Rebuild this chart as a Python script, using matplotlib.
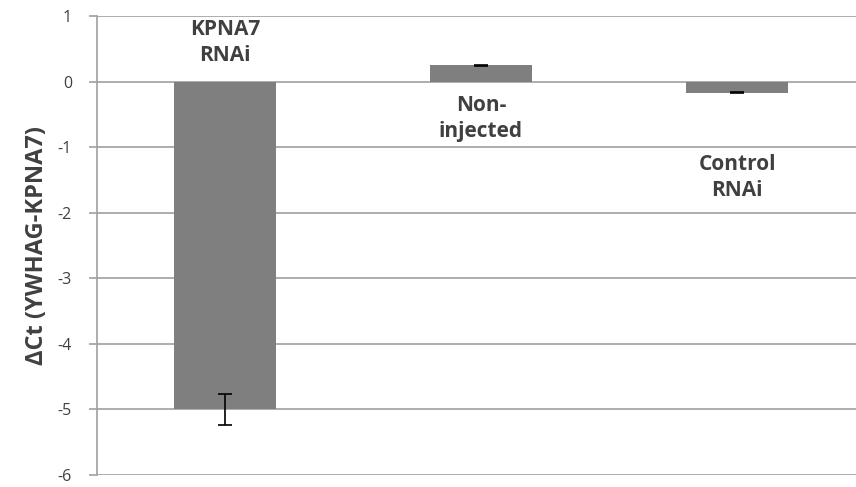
import matplotlib
matplotlib.use("Agg")
import matplotlib.pyplot as plt
import numpy as np

categories = ["KPNA7\nRNAi", "Non-\ninjected", "Control\nRNAi"]
values = [-5.0, 0.25, -0.17]
errors = [0.23, 0.01, 0.01]
label_y = [0.60, -0.56, -1.46]
yticks = [1, 0, -1, -2, -3, -4, -5, -6]

plt.rcParams['font.family'] = ['Open Sans', 'DejaVu Sans']

fig = plt.figure(figsize=(8.56, 4.87), dpi=100)
ax = fig.add_axes([97/856, 1-475/487, 768/856, (475-16)/487])

x = np.arange(len(categories))
ax.bar(x, values, width=0.4, color='#7f7f7f', zorder=3)
ax.errorbar(x, values, yerr=errors, fmt='none', ecolor='black', elinewidth=1.2,
            capsize=5, capthick=1.2, zorder=4)

for xi, lab, ly in zip(x, categories, label_y):
    ax.text(xi, ly, lab, ha='center', va='center', fontsize=15, fontweight='bold',
            color='#404040', linespacing=1.3, zorder=5)

ax.set_xlim(-0.5, 2.5)
ax.set_ylim(-6, 1)
ax.set_yticks(yticks)
ax.set_yticklabels([str(t) for t in yticks])
ax.set_xticks([])
ax.yaxis.grid(True, color='#a0a0a0', linewidth=1.2, zorder=0)
for s in ['top', 'right', 'bottom']:
    ax.spines[s].set_visible(False)
ax.spines['left'].set_color('#a0a0a0')
ax.spines['left'].set_linewidth(1.2)
ax.tick_params(axis='y', length=6, width=1.2, color='#a0a0a0', labelsize=11.5,
               labelcolor='#404040', pad=12)
ax.set_ylabel('\u0394Ct (YWHAG-KPNA7)', fontsize=17, fontweight='bold', color='#404040', labelpad=6)

fig.savefig('out.png', dpi=100)
